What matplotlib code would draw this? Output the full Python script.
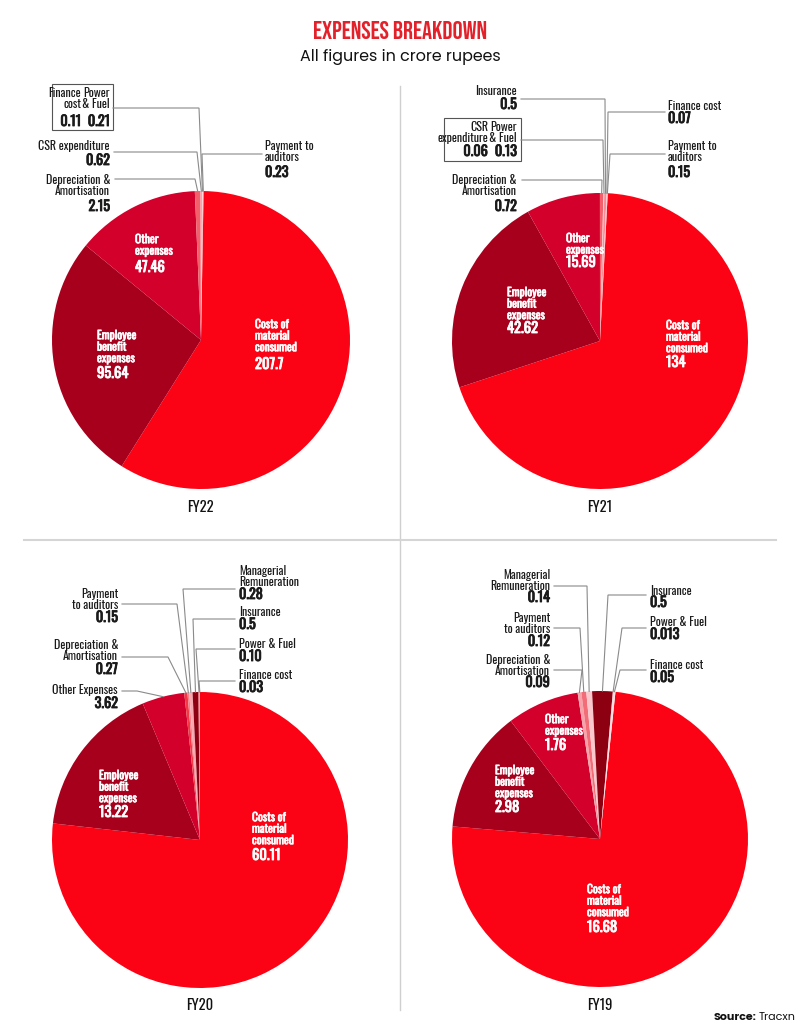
import matplotlib
matplotlib.use("Agg")
import numpy as np
import matplotlib.pyplot as plt
import matplotlib.patheffects as pe
from matplotlib.patches import Rectangle
import logging
logging.getLogger("matplotlib.font_manager").setLevel(logging.ERROR)

# ---- data (crore rupees), clockwise from the top of each pie ----
fy22_names = ["Costs of\nmaterial\nconsumed", "Employee\nbenefit\nexpenses", "Other\nexpenses",
              "Depreciation &\nAmortisation", "CSR expenditure", "Power\n& Fuel", "Finance\ncost",
              "Payment to\nauditors"]
fy22_values = [207.7, 95.64, 47.46, 2.15, 0.62, 0.21, 0.11, 0.23]
fy22_text = ["207.7", "95.64", "47.46", "2.15", "0.62", "0.21", "0.11", "0.23"]

fy21_names = ["Costs of\nmaterial\nconsumed", "Employee\nbenefit\nexpenses", "Other\nexpenses",
              "Depreciation &\nAmortisation", "CSR\nexpenditure", "Power\n& Fuel", "Insurance",
              "Finance cost", "Payment to\nauditors"]
fy21_values = [134, 42.62, 15.69, 0.72, 0.06, 0.13, 0.5, 0.07, 0.15]
fy21_text = ["134", "42.62", "15.69", "0.72", "0.06", "0.13", "0.5", "0.07", "0.15"]

fy20_names = ["Costs of\nmaterial\nconsumed", "Employee\nbenefit\nexpenses", "Other Expenses",
              "Depreciation &\nAmortisation", "Payment\nto auditors", "Managerial\nRemuneration",
              "Insurance", "Power & Fuel", "Finance cost"]
fy20_values = [60.11, 13.22, 3.62, 0.27, 0.15, 0.28, 0.5, 0.10, 0.03]
fy20_text = ["60.11", "13.22", "3.62", "0.27", "0.15", "0.28", "0.5", "0.10", "0.03"]

fy19_names = ["Costs of\nmaterial\nconsumed", "Employee\nbenefit\nexpenses", "Other\nexpenses",
              "Depreciation &\nAmortisation", "Payment\nto auditors", "Managerial\nRemuneration",
              "Insurance", "Power & Fuel", "Finance cost"]
fy19_values = [16.68, 2.98, 1.76, 0.09, 0.12, 0.14, 0.5, 0.013, 0.05]
fy19_text = ["16.68", "2.98", "1.76", "0.09", "0.12", "0.14", "0.5", "0.013", "0.05"]

# ---- styling ----
W, H = 800, 1030
NARROW = ["Oswald", "Roboto Condensed", "Barlow Condensed", "Saira Condensed", "DejaVu Sans"]
TITLEF = ["Bebas Neue", "Oswald", "Roboto Condensed", "Saira Condensed", "DejaVu Sans"]
SANS = ["Poppins", "Inter", "DejaVu Sans"]
RED = "#fb0314"
EMP = "#a6001c"
OTH = "#d3002b"

fy22_colors = [RED, EMP, OTH, "#f2606c", "#f8a2aa", "#fbc9ce", "#fde0e3", "#f58d96"]
fy21_colors = [RED, EMP, OTH, "#f2606c", "#f8a2aa", "#fbc9ce", "#f58d96", "#fde0e3", "#f9b3ba"]
fy20_colors = [RED, EMP, OTH, "#f23a46", "#f7818b", "#f9a8b0", "#8c0011", "#f46670", "#fbc6cb"]
fy19_colors = [RED, EMP, OTH, "#f7a3aa", "#f36d78", "#fbc8cd", "#8c0011", "#f9aab1", "#fde0e3"]

plt.rcParams['font.family'] = NARROW

fig = plt.figure(figsize=(8, 10.3), dpi=100)
ax = fig.add_axes([0, 0, 1, 1])


def Y(py):
    return H - py


def heavy(color, lw):
    return [pe.withStroke(linewidth=lw, foreground=color)]


def draw_pie(values, colors, cx, cy, r, start):
    wedges, _ = ax.pie(values, colors=colors, startangle=start, counterclock=False,
                       center=(cx, Y(cy)), radius=r, frame=True,
                       wedgeprops=dict(linewidth=0))
    return wedges


def edge_point(w):
    a = np.deg2rad((w.theta1 + w.theta2) / 2)
    return w.center[0] + w.r * np.cos(a), w.center[1] + w.r * np.sin(a)


def block(x, ycap, yval, ha, name, value, color, pitch, cap, fs, vfs, bold):
    for k, line in enumerate(name.split("\n")):
        t = ax.text(x, Y(ycap + cap + k * pitch), line, ha=ha, va="baseline",
                    fontsize=fs, color=color)
        if bold:
            t.set_path_effects(heavy(color, 0.45))
    ax.text(x, Y(yval + 5), value, ha=ha, va="baseline", fontsize=vfs, color=color,
            path_effects=heavy(color, 0.6))


def outside(wedges, names, texts, i, x, ytop, yval, ha, ly, lx, ex):
    block(x, ytop, yval, ha, names[i], texts[i], "#1a1a1a", 11, 7.8, 8.6, 10.2, False)
    if lx is None:
        return
    px, py = edge_point(wedges[i])
    ax.plot([lx, ex, px], [Y(ly), Y(ly), py], color="#8a8a8a", lw=0.8,
            solid_joinstyle="miter")


def inside(names, texts, i, x, ytop, yval):
    block(x, ytop, yval, "left", names[i], texts[i], "white", 11.5, 8.2, 8.3, 10.5, True)


# ---------------- FY22 ----------------
w = draw_pie(fy22_values, fy22_colors, 201, 340, 149, 89)
inside(fy22_names, fy22_text, 0, 255, 320, 364)
inside(fy22_names, fy22_text, 1, 97, 331, 373)
inside(fy22_names, fy22_text, 2, 135, 235, 267)
ax.add_patch(Rectangle((52, Y(130)), 61, 46, fill=False, ec="#555555", lw=0.8))
outside(w, fy22_names, fy22_text, 6, 81, 89, 121, "right", None, None, None)
outside(w, fy22_names, fy22_text, 5, 110, 89, 121, "right", 108, 113, 199)
outside(w, fy22_names, fy22_text, 4, 110, 142, 160, "right", 152, 114, 197)
outside(w, fy22_names, fy22_text, 3, 110, 176, 206, "right", 179, 115, 195)
outside(w, fy22_names, fy22_text, 7, 265, 142, 172, "left", 154, 262, 202)

# ---------------- FY21 ----------------
w = draw_pie(fy21_values, fy21_colors, 600, 341, 148, 87)
inside(fy21_names, fy21_text, 0, 666, 321, 362)
inside(fy21_names, fy21_text, 1, 507, 288, 328)
inside(fy21_names, fy21_text, 2, 566, 234, 262)
ax.add_patch(Rectangle((444, Y(161)), 77, 43, fill=False, ec="#555555", lw=0.8))
outside(w, fy21_names, fy21_text, 6, 517, 87, 104, "right", 99, 521, 605)
outside(w, fy21_names, fy21_text, 7, 668, 102, 118, "left", 112, 665, 608)
outside(w, fy21_names, fy21_text, 4, 488, 123, 151, "right", None, None, None)
outside(w, fy21_names, fy21_text, 5, 517, 123, 151, "right", 140, 521, 603)
outside(w, fy21_names, fy21_text, 3, 517, 176, 206, "right", 180, 522, 602)
outside(w, fy21_names, fy21_text, 8, 668, 142, 172, "left", 154, 665, 610)

# ---------------- FY20 ----------------
w = draw_pie(fy20_values, fy20_colors, 200, 840, 148, 90)
inside(fy20_names, fy20_text, 0, 252, 813, 855)
inside(fy20_names, fy20_text, 1, 99, 771, 812)
outside(w, fy20_names, fy20_text, 5, 239, 567, 594, "left", 589, 235, 183)
outside(w, fy20_names, fy20_text, 4, 118, 590, 617, "right", 604, 122, 177)
outside(w, fy20_names, fy20_text, 6, 239, 608, 624, "left", 619, 235, 193)
outside(w, fy20_names, fy20_text, 3, 118, 641, 669, "right", 657, 122, 168)
outside(w, fy20_names, fy20_text, 7, 239, 640, 656, "left", 649, 235, 196)
outside(w, fy20_names, fy20_text, 8, 239, 671, 687, "left", 681, 235, 199)
outside(w, fy20_names, fy20_text, 2, 118, 686, 703, "right", 691, 122, 137)

# ---------------- FY19 ----------------
w = draw_pie(fy19_values, fy19_colors, 600, 839, 148, 84)
inside(fy19_names, fy19_text, 0, 587, 885, 927)
inside(fy19_names, fy19_text, 1, 495, 766, 807)
inside(fy19_names, fy19_text, 2, 545, 715, 745)
outside(w, fy19_names, fy19_text, 5, 550, 571, 597, "right", 586, 554, 587)
outside(w, fy19_names, fy19_text, 4, 550, 614, 641, "right", 628, 554, 580)
outside(w, fy19_names, fy19_text, 3, 550, 656, 682, "right", 670, 554, 582)
outside(w, fy19_names, fy19_text, 6, 650, 587, 602, "left", 595, 646, 608)
outside(w, fy19_names, fy19_text, 7, 650, 618, 634, "left", 628, 646, 622)
outside(w, fy19_names, fy19_text, 8, 650, 661, 677, "left", 670, 646, 620)

# ---- year captions ----
for x, y, s in [(200, 507, "FY22"), (600, 507, "FY21"), (200, 1005, "FY20"), (600, 1005, "FY19")]:
    ax.text(x, Y(y), s, ha="center", va="center", fontsize=10.5, color="#111111")

# ---- dividers ----
ax.plot([400, 400], [Y(86), Y(1010)], color="#cfcfcf", lw=1)
ax.plot([24, 776], [Y(540), Y(540)], color="#d5d5d5", lw=1.5)

# ---- titles ----
ax.text(400, Y(30), "EXPENSES BREAKDOWN", ha="center", va="center", fontsize=18,
        fontweight="bold", color="#e3212b", family=TITLEF)
ax.text(400, Y(57), "All figures in crore rupees", ha="center", va="center", fontsize=11.5,
        color="#111111", family=SANS)
ax.text(756, Y(1018), "Source:", ha="right", va="center", fontsize=8, fontweight="bold",
        color="#111111", family=SANS)
ax.text(759, Y(1018), "Tracxn", ha="left", va="center", fontsize=8,
        color="#111111", family=SANS)

ax.set_xlim(0, W)
ax.set_ylim(0, H)
ax.axis("off")

fig.savefig("out.png", dpi=100, facecolor="white")
